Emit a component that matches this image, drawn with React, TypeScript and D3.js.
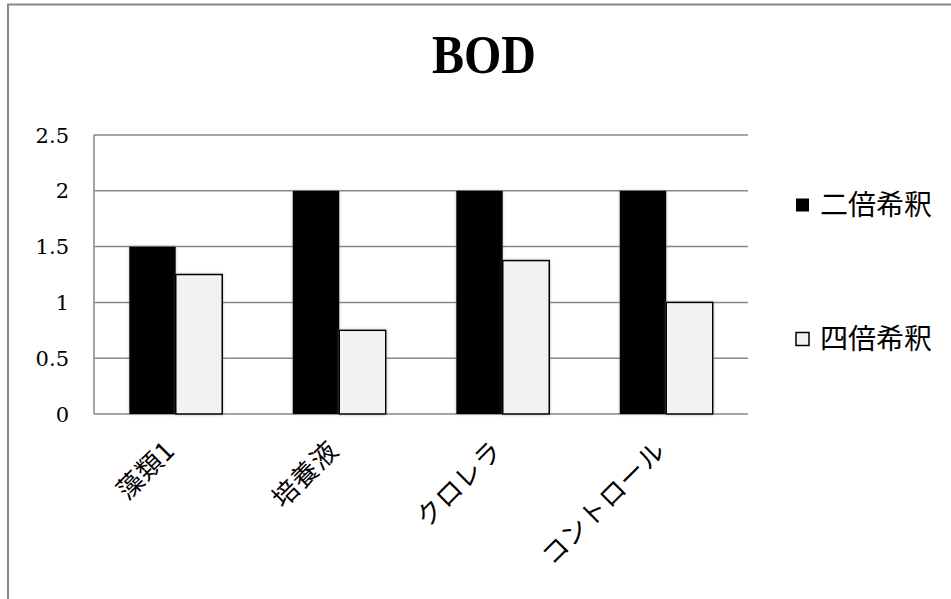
import React, { useEffect, useRef } from "react";
import * as d3 from "d3";

const categories = ["藻類1", "培養液", "クロレラ", "コントロール"];
const seriesNames = ["二倍希釈", "四倍希釈"];
const twoFold = [1.5, 2, 2, 2];
const fourFold = [1.25, 0.75, 1.375, 1];
const yTicks = [0, 0.5, 1, 1.5, 2, 2.5];

const W = 951;
const H = 599;

export default function App() {
  const ref = useRef<SVGSVGElement | null>(null);

  useEffect(() => {
    if (!ref.current) return;
    const svg = d3.select(ref.current);
    svg.selectAll("*").remove();

    const left = 94, right = 748, top = 135, bottom = 414;
    const serif = "'Liberation Serif', 'DejaVu Serif', serif";
    const jp = "'Noto Sans CJK JP', sans-serif";

    // soft shadow like the office chart
    const defs = svg.append("defs");
    defs.append("filter")
      .attr("id", "shadow")
      .attr("x", "-20%").attr("y", "-5%")
      .attr("width", "140%").attr("height", "110%")
      .append("feDropShadow")
      .attr("dx", 0).attr("dy", 0)
      .attr("stdDeviation", 1.5)
      .attr("flood-color", "#777")
      .attr("flood-opacity", 0.5);

    svg.append("rect")
      .attr("width", W).attr("height", H)
      .attr("fill", "#fff");

    // outer frame
    svg.append("rect")
      .attr("x", 8).attr("y", 4.5)
      .attr("width", 1000).attr("height", 700)
      .attr("fill", "none")
      .attr("stroke", "#888")
      .attr("stroke-width", 2);

    svg.append("text")
      .attr("x", 484).attr("y", 73)
      .attr("text-anchor", "middle")
      .attr("font-family", serif)
      .attr("font-weight", "bold")
      .attr("font-size", 54)
      .attr("textLength", 104)
      .attr("lengthAdjust", "spacingAndGlyphs")
      .attr("fill", "#000")
      .text("BOD");

    const x0 = d3.scaleBand<string>()
      .domain(categories)
      .range([left, right])
      .paddingInner(0)
      .paddingOuter(0);

    const inner = 93 / x0.bandwidth();
    const x1 = d3.scaleBand<string>()
      .domain(seriesNames)
      .range([0, x0.bandwidth()])
      .paddingOuter((1 - inner) / inner)
      .paddingInner(0);

    const y = d3.scaleLinear().domain([0, 2.5]).range([bottom, top]);

    // gridlines
    svg.append("g")
      .selectAll("line")
      .data(yTicks)
      .join("line")
      .attr("x1", left).attr("x2", right)
      .attr("y1", d => y(d)).attr("y2", d => y(d))
      .attr("stroke", "#878787")
      .attr("stroke-width", 1.5);

    svg.append("line")
      .attr("x1", left).attr("x2", left)
      .attr("y1", top).attr("y2", bottom)
      .attr("stroke", "#878787")
      .attr("stroke-width", 1.5);

    svg.append("g")
      .selectAll("text")
      .data(yTicks)
      .join("text")
      .attr("x", 69)
      .attr("y", d => y(d))
      .attr("dy", "0.36em")
      .attr("text-anchor", "end")
      .attr("font-family", "'DejaVu Serif', serif")
      .attr("font-size", 21)
      .attr("fill", "#000")
      .text(d => String(d));

    const rows = categories.map((c, i) => ({ c, vals: [twoFold[i], fourFold[i]] }));

    const groups = svg.append("g")
      .selectAll("g")
      .data(rows)
      .join("g")
      .attr("transform", d => `translate(${x0(d.c)},0)`);

    groups.selectAll("rect")
      .data(d => d.vals.map((v, k) => ({ s: seriesNames[k], v, k })))
      .join("rect")
      .attr("x", d => x1(d.s)!)
      .attr("y", d => y(d.v))
      .attr("width", x1.bandwidth())
      .attr("height", d => bottom - y(d.v))
      .attr("fill", d => (d.k === 0 ? "#000" : "#f2f2f2"))
      .attr("stroke", "#000")
      .attr("stroke-width", d => (d.k === 0 ? 0 : 1.5))
      .attr("filter", "url(#shadow)");

    // rotated category labels
    svg.append("g")
      .selectAll("text")
      .data(categories)
      .join("text")
      .attr("transform", d => `translate(${x0(d)! + x0.bandwidth() / 2 + 1},452) rotate(-45)`)
      .attr("text-anchor", "end")
      .attr("font-family", jp)
      .attr("font-size", 26)
      .attr("letter-spacing", 1)
      .attr("fill", "#000")
      .text(d => d);

    // legend
    const legendY = [205, 339];
    const lg = svg.append("g")
      .selectAll("g")
      .data(seriesNames)
      .join("g")
      .attr("transform", (d, i) => `translate(796,${legendY[i]})`);

    lg.append("rect")
      .attr("x", 0).attr("y", -6.5)
      .attr("width", 13).attr("height", 13)
      .attr("fill", (d, i) => (i === 0 ? "#000" : "#f2f2f2"))
      .attr("stroke", "#000")
      .attr("stroke-width", (d, i) => (i === 0 ? 0 : 1.5));

    lg.append("text")
      .attr("x", 24).attr("y", 0)
      .attr("dy", "0.36em")
      .attr("font-family", jp)
      .attr("font-size", 28)
      .attr("fill", "#000")
      .text(d => d);
  }, []);

  return (
    <svg
      ref={ref}
      width={W}
      height={H}
      style={{ position: "fixed", left: 0, top: 0, display: "block" }}
    />
  );
}
